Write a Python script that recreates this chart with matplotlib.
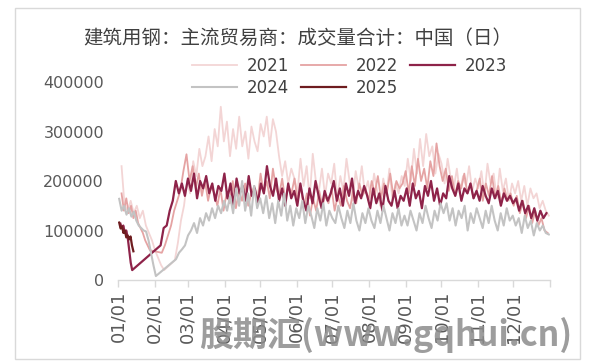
import numpy as np
import pandas as pd
import matplotlib as mpl
mpl.use("Agg")
import matplotlib.pyplot as plt
import matplotlib.dates as mdates
from matplotlib.patches import Rectangle

plt.rcParams["font.family"] = ["DejaVu Sans"]

title = "建筑用钢：主流贸易商：成交量合计：中国（日）"
years = ["2021", "2022", "2023", "2024", "2025"]
colors = ["#F3D5D5", "#E5A3A3", "#8E2349", "#C3C3C3", "#6E1C1F"]
widths = [1.3, 1.3, 1.6, 1.5, 1.6]

# daily volume (thousand t), split around the spring festival break
# dates are month-day; values are spread evenly between first and last day
dates_2021 = [("01-04", "02-09"), ("02-18", "12-31")]
pre_2021 = [230, 150, 140, 160, 135, 150, 125, 140, 110, 95, 80, 60, 45, 30, 20]
post_2021 = [40, 75, 120,
             150, 200, 175, 240, 210, 265, 230, 250, 290, 240, 305, 270,
             350, 280, 320, 250, 305, 265, 330, 270, 300, 245, 310, 280,
             260, 315, 290, 330, 270, 325, 300, 250, 210, 240, 195, 225,
             205, 175, 245, 190, 230, 165, 255, 200, 180, 225, 170, 215,
             195, 235, 165, 210, 180, 245, 200, 160, 220, 185, 230, 175,
             200, 165, 215, 180, 150, 205, 170, 225, 160, 195, 175, 210,
             190, 245, 200, 265, 215, 285, 230, 295, 250, 270, 215, 255,
             235, 195, 245, 205, 185, 225, 175, 210, 190, 230, 180, 205,
             185, 220, 170, 235, 195, 215, 165, 225, 180, 205, 160, 195,
             175, 200, 160, 190, 150, 185, 165, 175, 145, 160, 140, 130]

dates_2022 = [("01-04", "01-28"), ("02-07", "12-30")]
pre_2022 = [175, 140, 165, 135, 150, 125, 140, 115, 105, 95, 80, 70, 60]
post_2022 = [55, 70, 90, 110, 140, 160,
             180, 220, 254, 200, 230, 185, 215, 170, 200, 160, 190, 175,
             150, 185, 140, 175, 155, 200, 145, 180, 160, 195, 150, 175,
             190, 160, 215, 175, 200, 165, 225, 185, 170, 205, 160, 190,
             175, 205, 160, 190, 145, 175, 130, 165, 140, 180, 150, 170,
             155, 185, 140, 170, 150, 190, 160, 145, 180, 155, 195, 170,
             185, 160, 200, 175, 210, 165, 195, 180, 215, 170, 200, 185,
             195, 220, 175, 230, 190, 245, 200, 225, 185, 240, 210, 276,
             230, 200, 225, 180, 210, 170, 200, 185, 215, 175, 195, 165,
             180, 205, 160, 195, 170, 210, 165, 190, 155, 185, 160, 175,
             150, 170, 135, 160, 125, 150, 115, 140, 110, 125, 100, 95]

dates_2023 = [("01-03", "01-13"), ("02-06", "12-29")]
pre_2023 = [114, 105, 110, 95, 100, 85, 60, 35, 20]
post_2023 = [70, 105, 110, 140, 160, 200, 175, 195,
             170, 205, 180, 215, 165, 200, 185, 210, 175, 195, 160, 190,
             180, 215, 165, 195, 150, 205, 175, 190, 160, 210, 170, 185,
             155, 195, 175, 230, 190, 170, 205, 160, 185, 150, 195, 165,
             180, 150, 195, 160, 140, 185, 155, 200, 170, 145, 180, 160,
             175, 200, 160, 185, 150, 195, 170, 205, 155, 180, 165, 190,
             170, 145, 185, 155, 175, 140, 190, 160, 150, 180, 145, 170,
             160, 185, 150, 195, 165, 180, 145, 190, 170, 200, 160, 185,
             150, 175, 165, 210, 185, 170, 195, 160, 185, 175, 195, 165,
             180, 160, 190, 170, 155, 185, 165, 180, 150, 175, 160, 170,
             155, 165, 140, 160, 135, 150, 125, 145, 120, 140, 125, 135]

dates_2024 = [("01-02", "02-02"), ("02-19", "12-31")]
pre_2024 = [164, 140, 150, 132, 145, 128, 138, 120, 110, 105, 100, 98, 80, 55, 30, 8]
post_2024 = [42, 55, 62, 70, 90,
             100, 115, 95, 125, 110, 135, 120, 145, 125, 150, 135, 160,
             140, 170, 135, 185, 150, 200, 140, 175, 130, 190, 145, 165,
             135, 170, 125, 155, 115, 160, 130, 175, 120, 150, 110, 145,
             125, 160, 115, 150, 130, 105, 145, 120, 155, 110, 140, 125,
             115, 150, 125, 105, 140, 115, 155, 120, 100, 135, 115, 145,
             120, 105, 140, 115, 150, 125, 100, 135, 115, 145, 110, 130,
             110, 140, 120, 100, 135, 115, 150, 125, 105, 140, 120, 155,
             135, 155, 120, 145, 110, 140, 125, 150, 100, 135, 115, 145,
             125, 105, 140, 115, 150, 120, 100, 135, 110, 145, 120, 130,
             110, 125, 95, 130, 105, 120, 90, 115, 100, 110, 95, 92]

dates_2025 = [("01-02", "01-14")]
pre_2025 = [116, 104, 108, 95, 100, 86, 90, 82, 88, 70, 58]

series = {
    "2021": (dates_2021, [pre_2021, post_2021]),
    "2022": (dates_2022, [pre_2022, post_2022]),
    "2023": (dates_2023, [pre_2023, post_2023]),
    "2024": (dates_2024, [pre_2024, post_2024]),
    "2025": (dates_2025, [pre_2025]),
}

base_year = 2023  # common calendar for all years


def to_num(md):
    return mdates.date2num(pd.Timestamp(f"{base_year}-{md}"))


fig = plt.figure(figsize=(5.95, 3.64), dpi=100)
ax = fig.add_axes([118 / 595, 1 - 280 / 364, (550 - 118) / 595, (280 - 82) / 364])

lines = {}
for year, color, lw in zip(years, colors, widths):
    spans, chunks = series[year]
    xs, ys = [], []
    for (d0, d1), vals in zip(spans, chunks):
        xs.append(np.linspace(to_num(d0), to_num(d1), len(vals)))
        ys.append(np.array(vals) * 1000)
    lines[year], = ax.plot(np.concatenate(xs), np.concatenate(ys), color=color, lw=lw,
                           label=year, solid_joinstyle="round")

# axes
ticks = [mdates.date2num(pd.Timestamp(f"{base_year}-{m:02d}-01")) for m in range(1, 13)]
ticks.append(mdates.date2num(pd.Timestamp(f"{base_year + 1}-01-01")))
ax.set_xlim(ticks[0], ticks[-1])
ax.set_xticks(ticks)
ax.set_xticklabels([f"{m:02d}/01" for m in range(1, 13)] + [""], rotation=90,
                   fontsize=13, color="#595959")
ax.set_ylim(0, 400000)
ax.set_yticks(np.arange(0, 400001, 100000))
ax.set_yticklabels([f"{v:d}" for v in range(0, 400001, 100000)], fontsize=11.5,
                   color="#595959")
ax.tick_params(axis="y", length=0, pad=10)
ax.tick_params(axis="x", length=5, color="#D9D9D9", width=1, pad=3)
for side in ["left", "right", "top"]:
    ax.spines[side].set_visible(False)
ax.spines["bottom"].set_color("#D9D9D9")
ax.spines["bottom"].set_linewidth(1)

# title and legend (row-wise order like the source: 2021 2022 2023 / 2024 2025)
fig.text(0.5, 1 - 38 / 364, title, ha="center", va="center", fontsize=14,
         color="#404040", family=["Noto Sans CJK SC", "DejaVu Sans"])
leg_order = ["2021", "2024", "2022", "2025", "2023"]
fig.legend([lines[y] for y in leg_order], leg_order, loc="upper left",
           bbox_to_anchor=(192 / 595, 1 - 57 / 364),
           ncol=3, frameon=False, fontsize=12, handlelength=2.7, handletextpad=0.6,
           columnspacing=0.7, labelspacing=0.25, borderpad=0, borderaxespad=0,
           labelcolor="#404040")

# outer frame
fig.patches.append(Rectangle((15 / 595, 1 - 359 / 364), (580 - 15) / 595, (359 - 8) / 364,
                             transform=fig.transFigure, fill=False, edgecolor="#D9D9D9",
                             lw=1))

# watermark
fig.text(386 / 595, 1 - 335 / 364, "股期汇(www.gqhui.cn)", ha="center", va="center",
         fontsize=24.5, fontweight="bold", style="italic", color="#8C8C8C", alpha=0.85,
         family=["Noto Sans CJK SC", "DejaVu Sans"])

fig.savefig("out.png", dpi=100)
